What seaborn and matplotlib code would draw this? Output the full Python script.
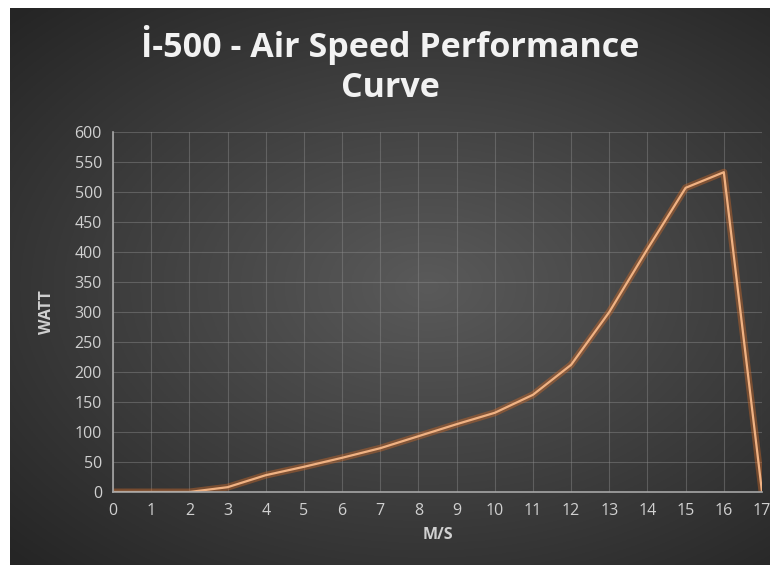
import matplotlib
matplotlib.use("Agg")
import matplotlib.pyplot as plt
import numpy as np
import pandas as pd
import seaborn as sns

# data
speed = [0, 1, 2, 3, 4, 5, 6, 7, 8, 9, 10, 11, 12, 13, 14, 15, 16, 17]
watt = [0, 0, 0, 8, 28, 42, 57, 73, 93, 113, 132, 162, 212, 300, 405, 507, 533, 0]
x_ticks = list(range(0, 18))
y_ticks = list(range(0, 601, 50))

df = pd.DataFrame({"M/S": speed, "WATT": watt})

sns.set_theme(style="dark")
plt.rcParams["font.family"] = ["Open Sans", "DejaVu Sans"]

fig = plt.figure(figsize=(7.8, 5.75), dpi=100)
fig.patch.set_facecolor("white")

# dark radial background panel
bg = fig.add_axes([10 / 780, 1 - 565 / 575, 760 / 780, 557 / 575])
gx, gy = np.meshgrid(np.linspace(-1, 1, 400), np.linspace(-1, 1, 300))
r = np.sqrt(((gx - 0.1) / 1.1) ** 2 + (gy / 1.0) ** 2)
shade = np.clip(1 - r / 1.4, 0, 1)
c0 = np.array([0x25, 0x25, 0x25]) / 255
c1 = np.array([0x5a, 0x5a, 0x5a]) / 255
img = c0 + (c1 - c0) * shade[..., None]
bg.imshow(img, aspect="auto", extent=[0, 1, 0, 1], zorder=0)
bg.set_axis_off()

ax = fig.add_axes([113 / 780, 1 - 492 / 575, 649 / 780, 360 / 575])
ax.patch.set_alpha(0)

# glow + line
sns.lineplot(data=df, x="M/S", y="WATT", ax=ax, color="#C8682A", lw=5, alpha=0.45)
sns.lineplot(data=df, x="M/S", y="WATT", ax=ax, color="#F0B283", lw=1.6)

ax.set_xlim(0, 17)
ax.set_ylim(0, 600)
ax.set_xticks(x_ticks)
ax.set_yticks(y_ticks)
ax.grid(True, color="#8a8a8a", lw=0.8, alpha=0.45)
ax.set_axisbelow(True)
for s in ["top", "right"]:
    ax.spines[s].set_visible(False)
for s in ["left", "bottom"]:
    ax.spines[s].set_visible(True)
    ax.spines[s].set_color("#a6a6a6")
    ax.spines[s].set_linewidth(1.2)
ax.tick_params(colors="#d0d0d0", labelsize=11.5, length=0, pad=8)

ax.set_xlabel("M/S", color="#d0d0d0", fontsize=11.5, fontweight="bold", labelpad=6)
ax.set_ylabel("WATT", color="#d0d0d0", fontsize=11.5, fontweight="bold", labelpad=14)

fig.text(0.5, 1 - 45 / 575, "İ-500 - Air Speed Performance", ha="center", va="center",
         color="#f2f2f2", fontsize=24.5, fontweight="bold")
fig.text(0.5, 1 - 88 / 575, "Curve", ha="center", va="center",
         color="#f2f2f2", fontsize=24.5, fontweight="bold")

fig.savefig("out.png", dpi=100, facecolor=fig.get_facecolor())
